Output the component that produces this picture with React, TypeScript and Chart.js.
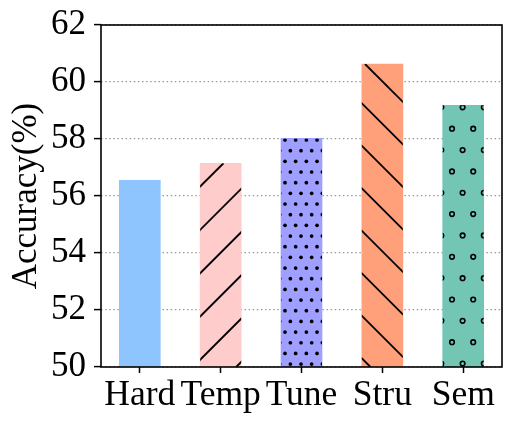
import React, { useEffect, useRef } from "react";
import { Chart, registerables } from "chart.js";

Chart.register(...registerables);

const categories = ["Hard", "Temp", "Tune", "Stru", "Sem"];
const accuracy = [56.55, 57.15, 58.02, 60.63, 59.18];
const yTicks = [50, 52, 54, 56, 58, 60, 62];
const barColors = ["#8FC5FF", "#FFCCCC", "#9F9FFF", "#FFA07A", "#73C6B4"];
const hatches = ["", "/", ".", "\\", "o"];

const FONT = "'Liberation Serif', 'Times New Roman', serif";

const hatchPlugin = {
  id: "hatch",
  afterDatasetsDraw(chart: any) {
    const ctx = chart.ctx;
    const area = chart.chartArea;
    const meta = chart.getDatasetMeta(0);
    meta.data.forEach((bar: any, i: number) => {
      const p = bar.getProps(["x", "y", "base", "width"], true);
      const left = p.x - p.width / 2;
      const right = p.x + p.width / 2;
      const top = Math.max(Math.min(p.y, p.base), area.top);
      const bottom = Math.min(Math.max(p.y, p.base), area.bottom);
      ctx.save();
      ctx.beginPath();
      ctx.rect(left, top, right - left, bottom - top);
      ctx.clip();
      ctx.strokeStyle = "#000";
      ctx.fillStyle = "#000";
      const h = hatches[i];
      if (h === "/") {
        const T = 43.3;
        const c0 = 386.7;
        ctx.lineWidth = 1.9;
        const kmin = Math.floor((left + top - c0) / T) - 1;
        const kmax = Math.ceil((right + bottom - c0) / T) + 1;
        for (let k = kmin; k <= kmax; k++) {
          const c = c0 + k * T;
          ctx.beginPath();
          ctx.moveTo(c - bottom, bottom);
          ctx.lineTo(c - top, top);
          ctx.stroke();
        }
      } else if (h === "\\") {
        const T = 42.5;
        const c0 = 131;
        ctx.lineWidth = 1.9;
        const kmin = Math.floor((left - bottom - c0) / T) - 1;
        const kmax = Math.ceil((right - top - c0) / T) + 1;
        for (let k = kmin; k <= kmax; k++) {
          const c = c0 + k * T;
          ctx.beginPath();
          ctx.moveTo(c + top, top);
          ctx.lineTo(c + bottom, bottom);
          ctx.stroke();
        }
      } else if (h === ".") {
        const P = 10.67;
        const y0 = 246.7;
        const x0 = 285;
        const jmin = Math.floor((top - y0) / P) - 1;
        const jmax = Math.ceil((bottom - y0) / P) + 1;
        for (let j = jmin; j <= jmax; j++) {
          const yy = y0 + j * P;
          const off = Math.abs(j) % 2 === 1 ? P / 2 : 0;
          const imin = Math.floor((left - x0 - off) / P) - 1;
          const imax = Math.ceil((right - x0 - off) / P) + 1;
          for (let ii = imin; ii <= imax; ii++) {
            const xx = x0 + off + ii * P;
            ctx.beginPath();
            ctx.arc(xx, yy, 1.85, 0, Math.PI * 2);
            ctx.fill();
          }
        }
      } else if (h === "o") {
        const PX = 21.2;
        const PY = 21.35;
        const y0 = 128.7;
        const x0 = 452;
        ctx.lineWidth = 1.6;
        const jmin = Math.floor((top - y0) / PY) - 1;
        const jmax = Math.ceil((bottom - y0) / PY) + 1;
        for (let j = jmin; j <= jmax; j++) {
          const yy = y0 + j * PY;
          const off = Math.abs(j) % 2 === 1 ? -PX / 2 : 0;
          const imin = Math.floor((left - x0 - off) / PX) - 1;
          const imax = Math.ceil((right - x0 - off) / PX) + 1;
          for (let ii = imin; ii <= imax; ii++) {
            const xx = x0 + off + ii * PX;
            ctx.beginPath();
            ctx.arc(xx, yy, 2.3, 0, Math.PI * 2);
            ctx.stroke();
          }
        }
      }
      ctx.restore();
    });
  },
  afterDraw(chart: any) {
    const { ctx, chartArea } = chart;
    ctx.save();
    ctx.strokeStyle = "#000";
    ctx.lineWidth = 1.6;
    ctx.setLineDash([]);
    ctx.strokeRect(
      chartArea.left,
      chartArea.top,
      chartArea.right - chartArea.left,
      chartArea.bottom - chartArea.top
    );
    ctx.restore();
  },
};

export default function App() {
  const ref = useRef<HTMLCanvasElement | null>(null);
  useEffect(() => {
    if (!ref.current) return;
    const chart = new Chart(ref.current, {
      type: "bar",
      data: {
        datasets: [
          {
            data: accuracy.map((v, i) => ({ x: i, y: v })),
            backgroundColor: barColors,
            borderWidth: 0,
            barThickness: 41,
          },
        ],
      },
      options: {
        responsive: false,
        animation: false,
        events: [],
        layout: { padding: { left: 0, right: 13, top: 25, bottom: 0 } },
        plugins: {
          legend: { display: false },
          tooltip: { enabled: false },
        },
        scales: {
          x: {
            type: "linear",
            offset: false,
            min: -0.48,
            max: 4.48,
            afterBuildTicks: (scale: any) => {
              scale.ticks = categories.map((_, i) => ({ value: i }));
            },
            afterFit: (scale: any) => {
              scale.height = 58;
              scale.paddingLeft = 0;
              scale.paddingRight = 0;
            },
            ticks: {
              autoSkip: false,
              maxRotation: 0,
              padding: 1,
              color: "#000",
              font: { family: FONT, size: 35.5 },
              callback: (v: any) => categories[v as number] ?? "",
            },
            grid: {
              offset: false,
              drawOnChartArea: false,
              drawTicks: true,
              tickLength: 6,
              tickColor: "#000",
              tickWidth: 1.5,
            },
            border: { display: false },
          },
          y: {
            min: 50,
            max: 62,
            afterBuildTicks: (scale: any) => {
              scale.ticks = yTicks.map((v) => ({ value: v }));
            },
            afterFit: (scale: any) => {
              scale.width = 101;
              scale.paddingTop = 0;
              scale.paddingBottom = 0;
            },
            ticks: {
              padding: 8,
              color: "#000",
              font: { family: FONT, size: 35 },
            },
            grid: {
              color: "#999",
              lineWidth: 1.2,
              drawTicks: true,
              tickLength: 7,
              tickColor: "#000",
              tickWidth: 1.5,
              tickBorderDash: [0, 0],
            },
            border: { display: false, dash: [1.5, 2.6] },
            title: {
              display: true,
              text: "Accuracy(%)",
              color: "#000",
              font: { family: FONT, size: 35 },
              padding: { top: 6, bottom: 0 },
            },
          },
        },
      },
      plugins: [hatchPlugin],
    });
    return () => chart.destroy();
  }, []);
  return (
    <div style={{ position: "fixed", left: 0, top: 0, width: 515, height: 425, background: "#fff" }}>
      <canvas ref={ref} width={515} height={425} style={{ display: "block" }} />
    </div>
  );
}
